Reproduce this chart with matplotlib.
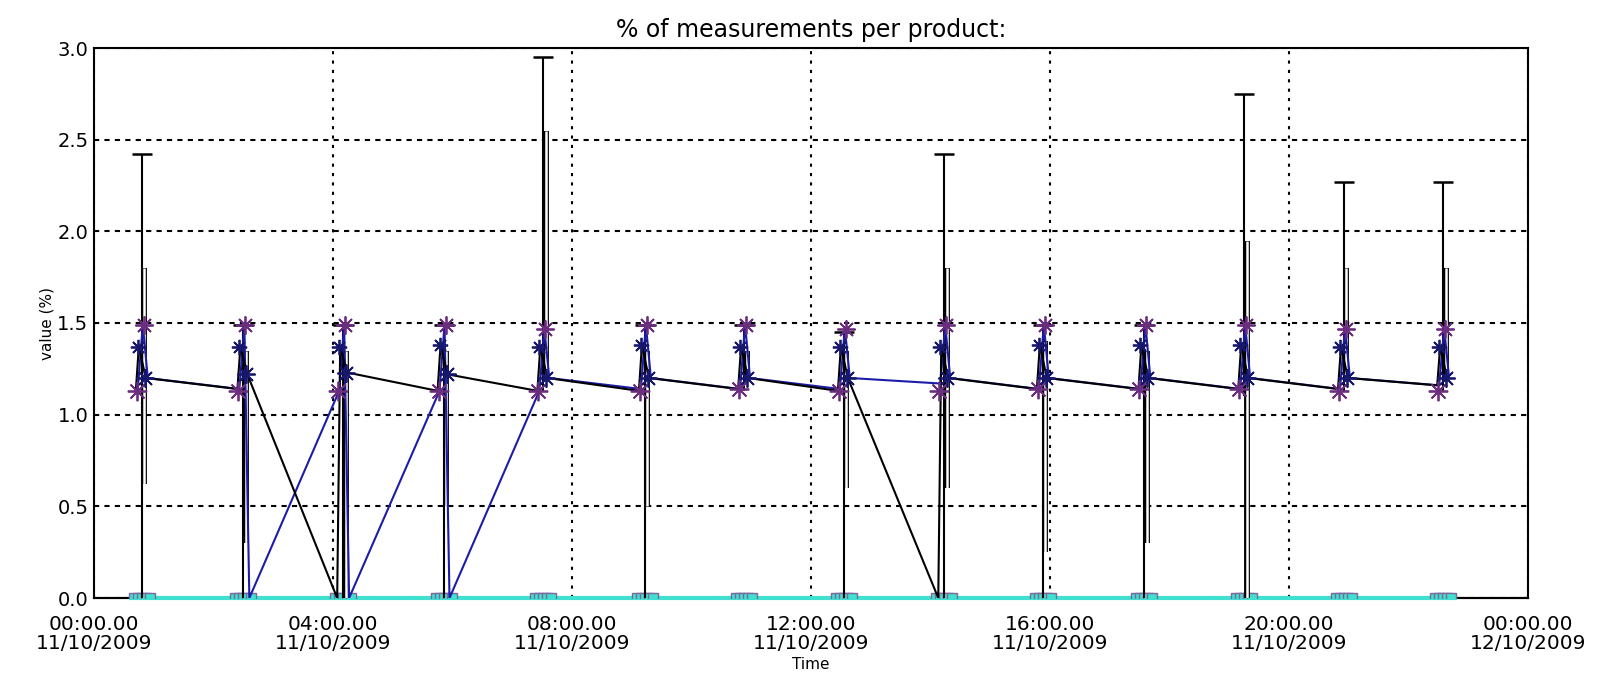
import matplotlib
matplotlib.use("Agg")
import matplotlib.pyplot as plt
import numpy as np

# measurement bursts (hours after 00:00 on 11/10/2009)
cluster_hours = [0.80, 2.50, 4.17, 5.85, 7.52, 9.22, 10.88, 12.55, 14.23, 15.88, 17.58, 19.25, 20.92, 22.58]

# black product line: value entering, middle and leaving each burst
black_first = [1.13, 1.14, 0.00, 1.13, 1.13, 1.13, 1.14, 1.13, 0.00, 1.14, 1.14, 1.14, 1.14, 1.16]
black_mid = [1.37, 1.37, 1.37, 1.38, 1.37, 1.38, 1.37, 1.37, 1.37, 1.38, 1.38, 1.38, 1.37, 1.37]
black_last = [1.20, 1.22, 1.23, 1.22, 1.20, 1.20, 1.20, 1.20, 1.20, 1.20, 1.20, 1.20, 1.20, 1.20]

# blue product line
blue_first = [1.14, 1.14, 1.13, 1.13, 1.13, 1.14, 1.14, 1.14, 1.17, 1.14, 1.14, 1.14, 1.14, 1.16]
blue_peak = [1.49, 1.49, 1.49, 1.49, 1.47, 1.49, 1.49, 1.47, 1.49, 1.49, 1.49, 1.49, 1.47, 1.47]
blue_last = [1.20, 0.00, 0.00, 0.00, 1.20, 1.20, 1.20, 1.20, 1.20, 1.20, 1.20, 1.20, 1.20, 1.20]

# asterisk markers
ast_low = [1.13, 1.13, 1.13, 1.13, 1.13, 1.13, 1.14, 1.13, 1.13, 1.14, 1.14, 1.14, 1.13, 1.13]
ast_mid = [1.37, 1.37, 1.37, 1.38, 1.37, 1.38, 1.37, 1.37, 1.37, 1.38, 1.38, 1.38, 1.37, 1.37]
ast_top = [1.49, 1.49, 1.49, 1.49, 1.47, 1.49, 1.49, 1.47, 1.49, 1.49, 1.49, 1.49, 1.47, 1.47]
ast_right = [1.20, 1.22, 1.23, 1.22, 1.20, 1.20, 1.20, 1.20, 1.20, 1.20, 1.20, 1.20, 1.20, 1.20]

# error bars (outer and inner)
err_top = [2.42, 1.49, 1.49, 1.49, 2.95, 1.49, 1.49, 1.45, 2.42, 1.49, 1.49, 2.75, 2.27, 2.27]
err_bottom = [0.00, 0.00, 0.00, 0.00, 1.13, 0.00, 1.13, 0.00, 0.00, 0.00, 0.00, 1.10, 1.13, 1.13]
inner_top = [1.80, 1.35, 1.35, 1.35, 2.55, 1.35, 1.35, 1.35, 1.80, 1.40, 1.35, 1.95, 1.80, 1.80]
inner_bottom = [0.62, 0.30, 0.00, 0.50, 1.20, 0.50, 1.20, 0.60, 0.60, 0.25, 0.30, 0.00, 1.20, 1.20]

baseline_hours = [0.0, 24.0]
baseline_values = [0.0, 0.0]

tick_hours = [0, 4, 8, 12, 16, 20, 24]
tick_labels = ["00:00.00\n11/10/2009", "04:00.00\n11/10/2009", "08:00.00\n11/10/2009",
               "12:00.00\n11/10/2009", "16:00.00\n11/10/2009", "20:00.00\n11/10/2009",
               "00:00.00\n12/10/2009"]
y_ticks = [0.0, 0.5, 1.0, 1.5, 2.0, 2.5, 3.0]

hours = np.array(cluster_hours)


def at(minutes):
    return hours + minutes / 60.0


def interleave(*cols):
    return np.column_stack(cols).ravel()


purple = "#6b2d7f"
navy = "#17176e"
blue = "#1c1ca8"
cyan = "#40e0d0"

fig = plt.figure(figsize=(16.01, 6.79), dpi=100)
ax = fig.add_axes([94 / 1601, 81 / 679, 1434 / 1601, 550 / 679])

# zero baseline and cyan count series with boxes
ax.plot(baseline_hours, baseline_values, color="black", lw=1.5, clip_on=False, zorder=2)
ax.plot([hours[0] - 0.18, hours[-1] + 0.2], [0, 0], color=cyan, lw=3, clip_on=False, zorder=3)
for off in [-8, -4, 0, 4, 8]:
    ax.plot(at(off), np.zeros(len(hours)), ls="none", marker="s", ms=7,
            mfc=cyan, mec="#7a6a9a", mew=1, zorder=3)

# outer error bars with caps
ax.vlines(at(0), err_bottom, err_top, color="black", lw=1.5, zorder=4)
ax.plot(at(0), err_top, ls="none", marker="_", ms=14, mew=1.8, color="black", zorder=4)
# inner bars drawn as outlined (double) lines
ax.vlines(at(2.5), inner_bottom, inner_top, color="black", lw=4.2, zorder=4)
ax.vlines(at(2.5), inner_bottom, inner_top, color="white", lw=1.8, zorder=4)

# blue line (under the black one)
ax.plot(interleave(at(-4), at(1), at(6)), interleave(blue_first, blue_peak, blue_last),
        color=blue, lw=1.5, zorder=5)
# black line
ax.plot(interleave(at(-6), at(-3), at(4)), interleave(black_first, black_mid, black_last),
        color="black", lw=1.5, zorder=5.5)

# asterisks
star = (8, 2, 0)
ax.plot(at(-5), ast_low, ls="none", marker=star, ms=14, mew=1.3, color=purple, zorder=6)
ax.plot(at(-4), ast_mid, ls="none", marker=star, ms=11, mew=1.3, color=navy, zorder=6)
ax.plot(at(2), ast_top, ls="none", marker=star, ms=13, mew=1.3, color=purple, zorder=6)
ax.plot(at(3), ast_right, ls="none", marker=star, ms=13, mew=1.3, color=navy, zorder=6)

ax.set_xlim(0, 24)
ax.set_ylim(0, 3.0)
ax.set_xticks(tick_hours)
ax.set_xticklabels(tick_labels, fontsize=14.5, linespacing=1.0)
ax.set_yticks(y_ticks)
ax.set_yticklabels([f"{v:.1f}" for v in y_ticks], fontsize=14)
ax.tick_params(axis="x", length=0, pad=12)
ax.tick_params(axis="y", length=0, pad=4)

ax.xaxis.grid(True, color="black", ls=(0, (1.5, 3)), lw=1.5)
ax.yaxis.grid(True, color="black", ls=(0, (2.5, 2.5)), lw=1.5)
ax.set_axisbelow(True)
for s in ax.spines.values():
    s.set_linewidth(1.5)

ax.set_title("% of measurements per product:", fontsize=17, pad=8)
ax.set_ylabel("value (%)", fontsize=11, labelpad=2)
ax.set_xlabel("Time", fontsize=11, labelpad=3)

fig.savefig("out.png", dpi=100)
